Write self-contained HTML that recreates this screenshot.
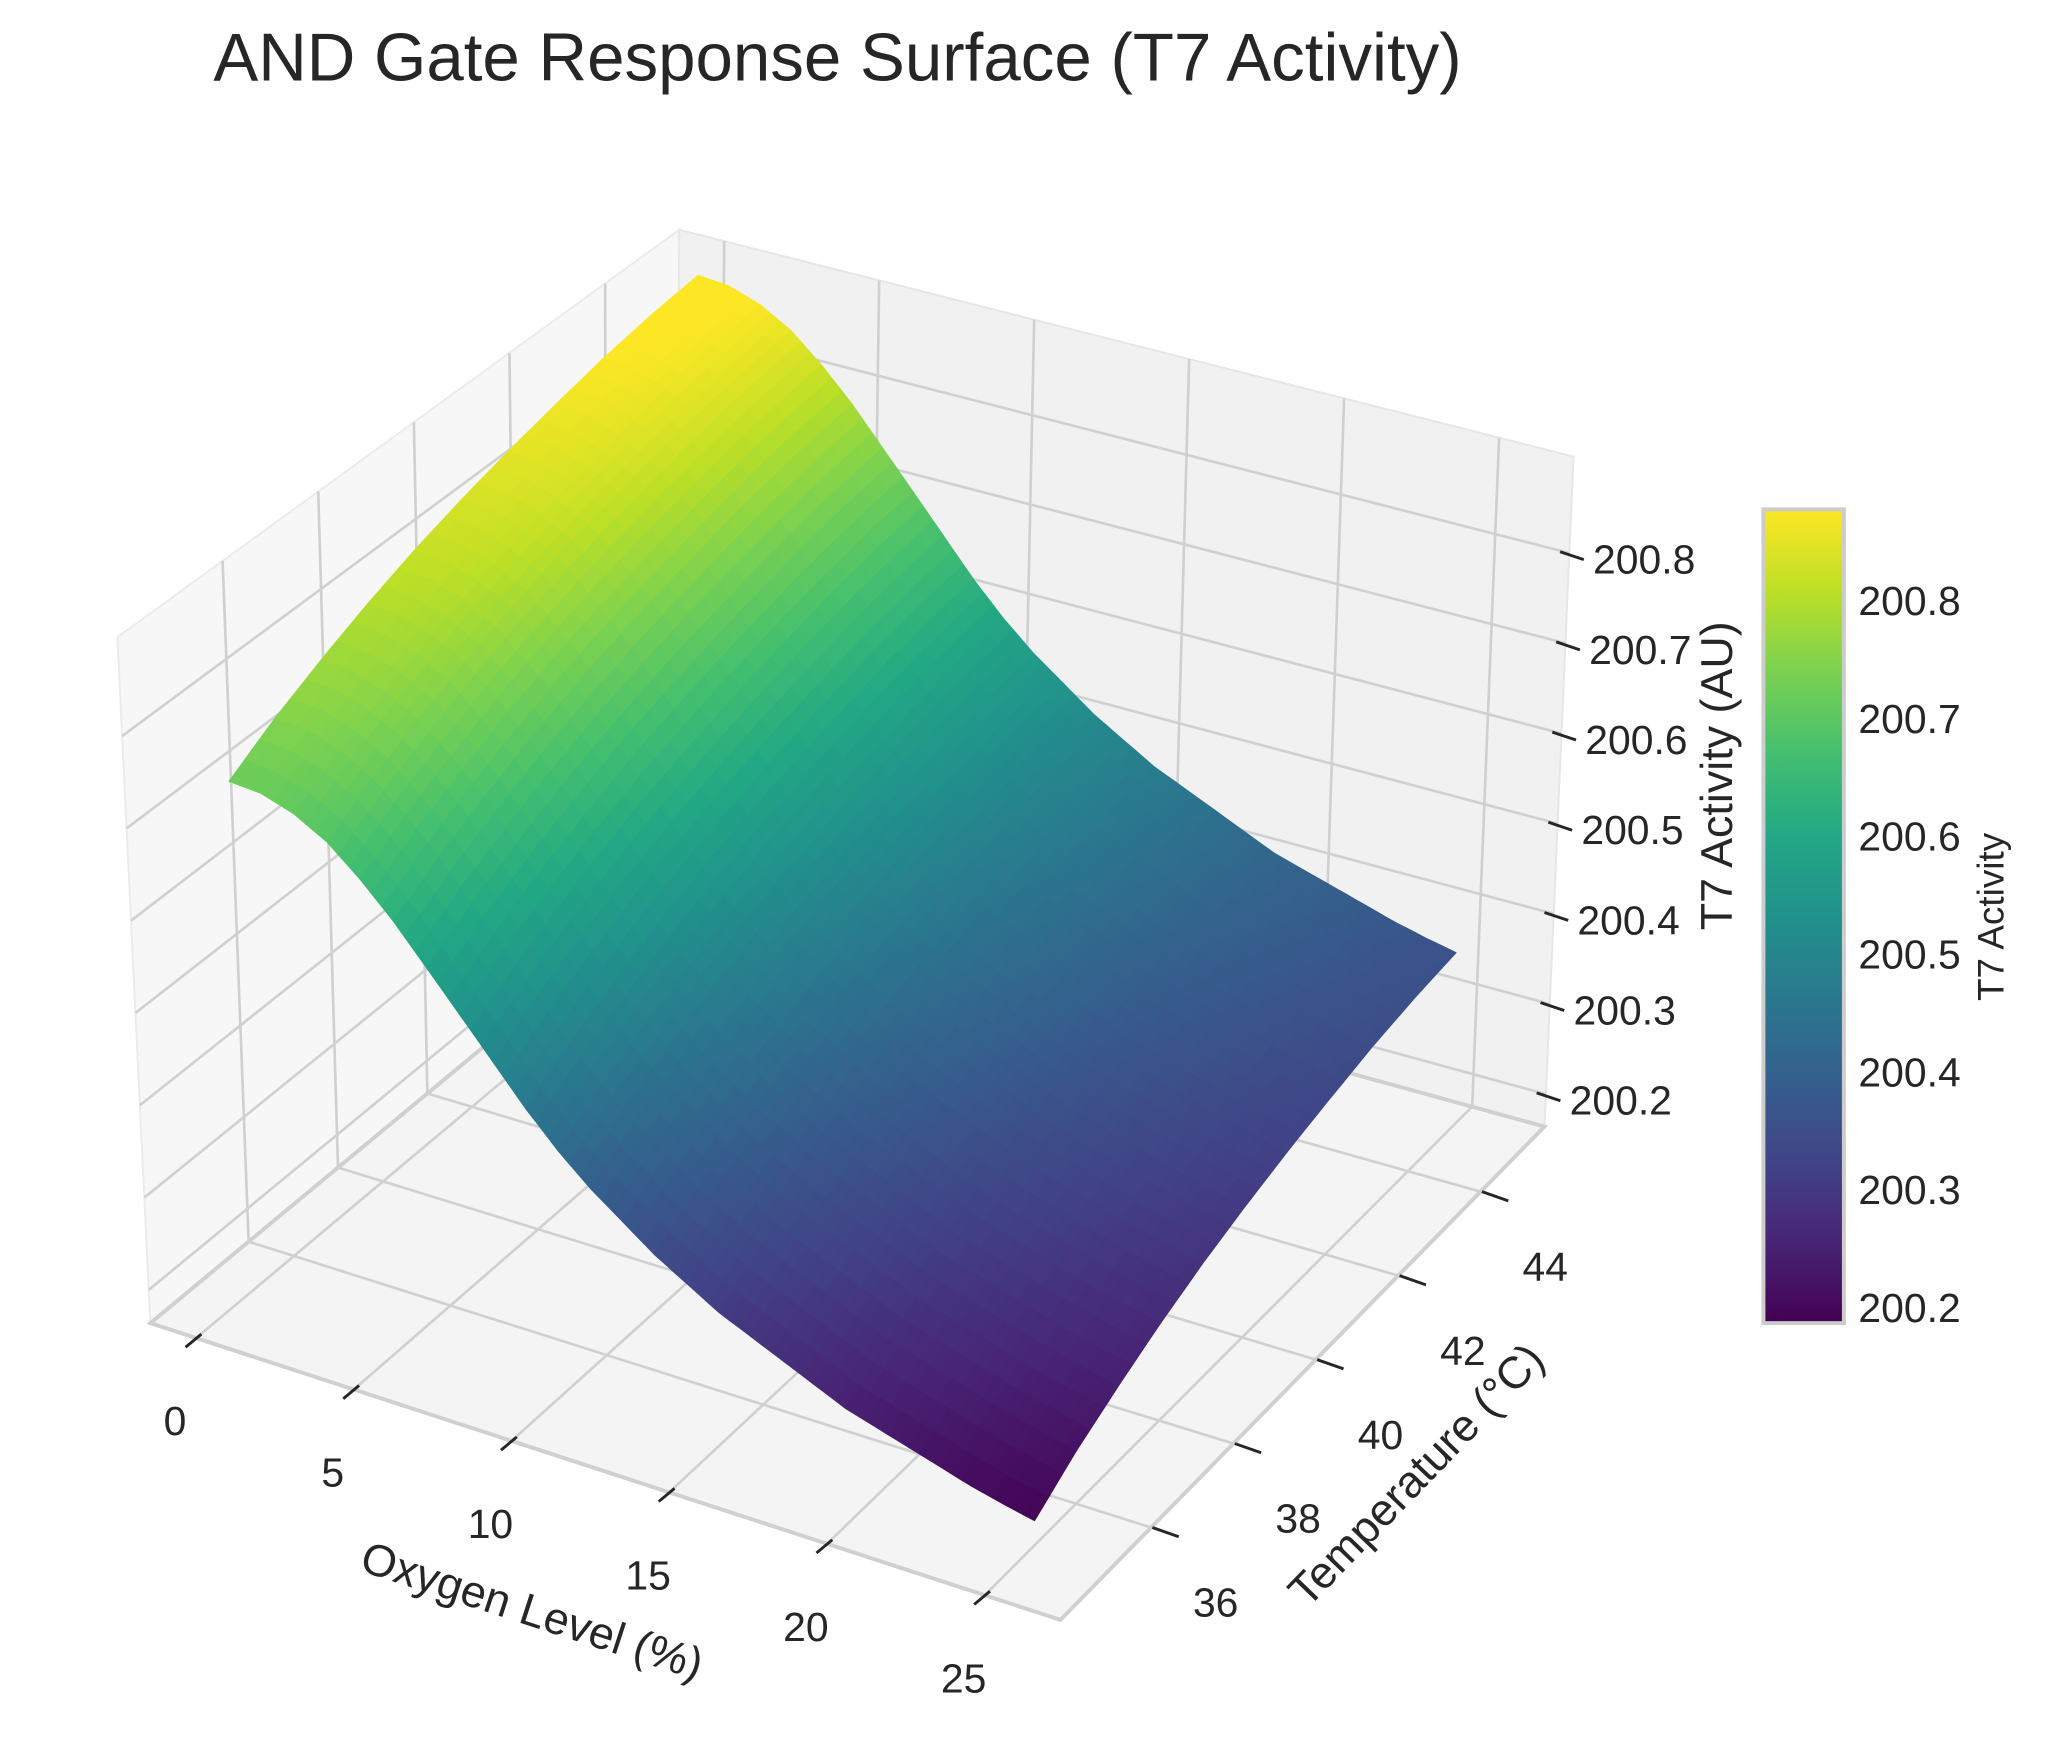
<!DOCTYPE html>
<html>
<head>
<meta charset="utf-8">
<style>
html,body{margin:0;padding:0;background:#fff;}
svg{display:block;font-family:"Liberation Sans",Arial,sans-serif;}
</style>
</head>
<body>
<svg id="chart" width="2047" height="1752" viewBox="0 0 1552 1328" xmlns="http://www.w3.org/2000/svg">
  <defs>
    <linearGradient id="viridis" x1="0" y1="1" x2="0" y2="0">
      <stop offset="0" stop-color="#440154"/>
      <stop offset="0.1" stop-color="#482475"/>
      <stop offset="0.2" stop-color="#414487"/>
      <stop offset="0.3" stop-color="#355f8d"/>
      <stop offset="0.4" stop-color="#2a788e"/>
      <stop offset="0.5" stop-color="#21918c"/>
      <stop offset="0.6" stop-color="#22a884"/>
      <stop offset="0.7" stop-color="#44bf70"/>
      <stop offset="0.8" stop-color="#7ad151"/>
      <stop offset="0.9" stop-color="#bddf26"/>
      <stop offset="1" stop-color="#fde725"/>
    </linearGradient>
  </defs>
  <text x="635" y="61" text-anchor="middle" font-size="51" fill="#262626">AND Gate Response Surface (T7 Activity)</text>
  <g id="panes"></g>
  <g id="grid"></g>
  <g id="surface"></g>
  <g id="ticks"></g>
  <text x="400" y="1232" text-anchor="middle" font-size="34" fill="#262626" transform="rotate(18 400 1232)">Oxygen Level (%)</text>
  <text x="1082" y="1126" text-anchor="middle" font-size="34" fill="#262626" transform="rotate(-46 1082 1126)">Temperature (°C)</text>
  <text x="1313" y="588" text-anchor="middle" font-size="34" fill="#262626" transform="rotate(-90 1313 588)">T7 Activity (AU)</text>
  <g>
    <rect x="1337" y="386" width="61" height="617" fill="url(#viridis)" stroke="#cccccc" stroke-width="3"/>
    <g id="cbticks"></g>
    <text x="1519" y="695" text-anchor="middle" font-size="28" fill="#262626" transform="rotate(-90 1519 695)">T7 Activity</text>
  </g>
</svg>
<script>
// ---- data ----
const oxygenLevels = [0,1,2,3,4,5,6,7,8,9,10,11,12,13,14,15,16,17,18,19,20,21,22,23,24,25];
const activityAt35C = [200.72,200.717,200.705,200.685,200.655,200.62,200.58,200.54,200.50,200.46,200.425,200.395,200.37,200.345,200.325,200.305,200.29,200.275,200.26,200.245,200.235,200.225,200.215,200.205,200.197,200.19];
const temperatures = [35,36,37,38,39,40,41,42,43,44,45];
const temperatureBoost = [0,0.03,0.055,0.078,0.098,0.115,0.13,0.143,0.155,0.164,0.17];
const oxygenTicks = [0,5,10,15,20,25];
const temperatureTicks = [36,38,40,42,44];
const activityTicks = [200.2,200.3,200.4,200.5,200.6,200.7,200.8];
const colorbarTicks = ["200.2","200.3","200.4","200.5","200.6","200.7","200.8"];

const NS = "http://www.w3.org/2000/svg";
const O0=-1.45, O1=27.4, T0=33.8, T1=45.55, Z0=200.164, Z1=200.907;
const VMIN=200.187, VMAX=200.878;
const CB_Y=386, CB_H=617;
const C = {
  "000":[114,1003],"001":[89,483],"010":[512,673],"011":[515,174],
  "100":[804,1228],"101":[807,690],"110":[1171,854],"111":[1193,346]
};
function proj(o,t,z){
  const u=(o-O0)/(O1-O0), v=(t-T0)/(T1-T0), w=(z-Z0)/(Z1-Z0);
  let x=0,y=0;
  for(const a of [0,1])for(const b of [0,1])for(const c of [0,1]){
    const f=(a?u:1-u)*(b?v:1-v)*(c?w:1-w);
    const p=C[""+a+b+c]; x+=f*p[0]; y+=f*p[1];
  }
  return [x,y];
}
function mk(tag,attrs,parent){
  const e=document.createElementNS(NS,tag);
  for(const k in attrs)e.setAttribute(k,attrs[k]);
  parent.appendChild(e);return e;
}
const vir=[[68,1,84],[72,36,117],[65,68,135],[53,95,141],[42,120,142],[33,145,140],[34,168,132],[68,191,112],[122,209,81],[189,223,38],[253,231,37]];
function cmap(v){
  let s=Math.max(0,Math.min(1,(v-VMIN)/(VMAX-VMIN)))*10;
  const i=Math.min(9,Math.floor(s)), f=s-i;
  const c=vir[i].map((x,k)=>Math.round(x+(vir[i+1][k]-x)*f));
  return `rgb(${c[0]},${c[1]},${c[2]})`;
}
function pts(arr){return arr.map(p=>p[0].toFixed(1)+","+p[1].toFixed(1)).join(" ");}

// panes
const panes=document.getElementById("panes");
const leftWall=mk("polygon",{points:pts([proj(O0,T0,Z0),proj(O0,T0,Z1),proj(O0,T1,Z1),proj(O0,T1,Z0)]),fill:"#f7f7f7",stroke:"#ebebeb","stroke-width":1.5},panes);


const backWall=mk("polygon",{points:pts([proj(O0,T1,Z0),proj(O0,T1,Z1),proj(O1,T1,Z1),proj(O1,T1,Z0)]),fill:"#f1f1f1",stroke:"#e6e6e6","stroke-width":1.5},panes);


const floor=mk("polygon",{points:pts([proj(O0,T0,Z0),proj(O1,T0,Z0),proj(O1,T1,Z0),proj(O0,T1,Z0)]),fill:"#f4f4f4",stroke:"#d0d0d0","stroke-width":3},panes);



// grid
const grid=document.getElementById("grid");
function gl(a,b,name){
  const l=mk("line",{x1:a[0],y1:a[1],x2:b[0],y2:b[1],stroke:"#d0d0d0","stroke-width":2},grid);
  
  
}
oxygenTicks.forEach(o=>{
  gl(proj(o,T0,Z0),proj(o,T1,Z0),"floor-grid-oxygen");
  gl(proj(o,T1,Z0),proj(o,T1,Z1),"back-grid-oxygen");
});
temperatureTicks.forEach(t=>{
  gl(proj(O0,t,Z0),proj(O1,t,Z0),"floor-grid-temperature");
  gl(proj(O0,t,Z0),proj(O0,t,Z1),"left-grid-temperature");
});
activityTicks.forEach(z=>{
  gl(proj(O0,T0,z),proj(O0,T1,z),"left-grid-activity");
  gl(proj(O0,T1,z),proj(O1,T1,z),"back-grid-activity");
});

// surface (each data cell subdivided for smooth rendering)
const surf=document.getElementById("surface");
const zval=(i,j)=>activityAt35C[i]+temperatureBoost[j];
const SUB=3;
const quads=[];
for(let i=0;i<oxygenLevels.length-1;i++)for(let j=0;j<temperatures.length-1;j++){
  for(let a=0;a<SUB;a++)for(let b=0;b<SUB;b++){
    const f0=a/SUB,f1=(a+1)/SUB,g0=b/SUB,g1=(b+1)/SUB;
    const pt=(f,g)=>{
      const o=oxygenLevels[i]+(oxygenLevels[i+1]-oxygenLevels[i])*f;
      const t=temperatures[j]+(temperatures[j+1]-temperatures[j])*g;
      const z=zval(i,j)*(1-f)*(1-g)+zval(i+1,j)*f*(1-g)+zval(i+1,j+1)*f*g+zval(i,j+1)*(1-f)*g;
      return [o,t,z];
    };
    const c=[pt(f0,g0),pt(f1,g0),pt(f1,g1),pt(f0,g1)];
    const om=(c[0][0]+c[1][0])/2, tm=(c[0][1]+c[3][1])/2;
    const on=(om-O0)/(O1-O0), tn=(tm-T0)/(T1-T0);
    quads.push({c,d:0.866*tn-0.5*on});
  }
}
quads.sort((a,b)=>b.d-a.d);
quads.forEach(q=>{
  const p=q.c.map(v=>proj(v[0],v[1],v[2]));
  const avg=(q.c[0][2]+q.c[1][2]+q.c[2][2]+q.c[3][2])/4;
  const col=cmap(avg);
  const poly=mk("polygon",{points:pts(p),fill:col,stroke:col,"stroke-width":0.7,"stroke-linejoin":"round"},surf);
  
  
});

// ticks & labels
const tk=document.getElementById("ticks");
function tickLine(a,b,name){
  const l=mk("line",{x1:a[0],y1:a[1],x2:b[0],y2:b[1],stroke:"#262626","stroke-width":2.2},tk);
  
  
}
function label(x,y,txt,name,anchor){
  const t=mk("text",{x:x,y:y,"font-size":31,fill:"#262626","text-anchor":anchor||"middle","dominant-baseline":"central"},tk);
  t.textContent=txt;
  
  
}
oxygenTicks.forEach(o=>{
  const a=proj(o,T0,Z0);
  tickLine([a[0]+4,a[1]-3],[a[0]-8,a[1]+7],"oxygen-tick");
  label(a[0]-16,a[1]+63,String(o),"oxygen-tick-label");
});
temperatureTicks.forEach(t=>{
  const a=proj(O1,t,Z0);
  tickLine([a[0]+1,a[1]],[a[0]+21,a[1]+7],"temperature-tick");
  label(a[0]+49,a[1]+57,String(t),"temperature-tick-label");
});
activityTicks.forEach(z=>{
  const a=proj(O1,T1,z);
  tickLine([a[0]-7,a[1]-1],[a[0]+11,a[1]+5],"activity-tick");
  label(a[0]+18,a[1]+5,z.toFixed(1),"activity-tick-label","start");
});

// colorbar ticks
const cbt=document.getElementById("cbticks");
colorbarTicks.forEach(s=>{
  const v=parseFloat(s);
  const y=CB_Y+CB_H-(v-VMIN)/(VMAX-VMIN)*CB_H;
  const t=mk("text",{x:1409,y:y,"font-size":31,fill:"#262626","dominant-baseline":"central"},cbt);
  t.textContent=s;
  
  
});
</script>
</body>
</html>
